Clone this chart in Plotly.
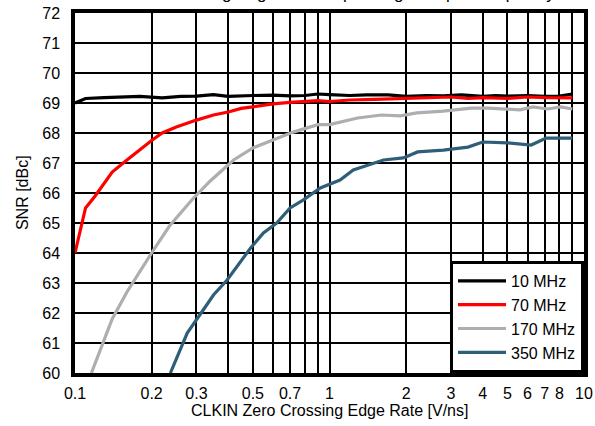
import plotly.graph_objects as go

# CLKIN edge rate [V/ns] and SNR [dBc]
x_10 = [0.1, 0.11, 0.13, 0.15, 0.18, 0.22, 0.26, 0.3, 0.35, 0.4, 0.45, 0.5, 0.6, 0.7, 0.8, 0.9,
        1.0, 1.2, 1.4, 1.7, 2.0, 2.4, 2.8, 3.3, 4.0, 4.5, 5.0, 6.0, 7.0, 8.0, 9.0]
snr_10 = [69.0, 69.15, 69.18, 69.2, 69.22, 69.17, 69.22, 69.23, 69.28, 69.22, 69.24, 69.25, 69.26, 69.24, 69.25, 69.3,
          69.28, 69.25, 69.27, 69.27, 69.22, 69.25, 69.24, 69.27, 69.22, 69.25, 69.23, 69.25, 69.22, 69.23, 69.3]

x_70 = [0.1, 0.11, 0.12, 0.14, 0.16, 0.18, 0.2, 0.22, 0.25, 0.3, 0.35, 0.4, 0.45, 0.5, 0.55, 0.6,
        0.7, 0.8, 0.9, 1.0, 1.2, 1.5, 2.0, 2.5, 3.0, 3.5, 4.0, 5.0, 6.0, 7.0, 8.0, 9.0]
snr_70 = [64.0, 65.5, 65.9, 66.7, 67.1, 67.45, 67.75, 68.0, 68.2, 68.43, 68.6, 68.7, 68.82, 68.87, 68.92, 68.97,
          69.02, 69.05, 69.08, 69.05, 69.1, 69.12, 69.15, 69.17, 69.2, 69.15, 69.18, 69.15, 69.2, 69.18, 69.17, 69.17]

x_170 = [0.116, 0.125, 0.14, 0.16, 0.18, 0.2, 0.235, 0.29, 0.34, 0.42, 0.5, 0.6, 0.72, 0.9, 1.0, 1.29,
         1.6, 1.9, 2.2, 2.8, 3.6, 4.2, 5.6, 6.3, 7.2, 8.1, 9.0]
snr_170 = [60.0, 60.7, 61.8, 62.7, 63.4, 64.0, 64.9, 65.8, 66.4, 67.1, 67.5, 67.77, 68.03, 68.28, 68.28, 68.5,
           68.6, 68.57, 68.67, 68.73, 68.83, 68.83, 68.77, 68.87, 68.8, 68.87, 68.8]

x_350 = [0.237, 0.276, 0.319, 0.35, 0.396, 0.446, 0.49, 0.55, 0.62, 0.7, 0.79, 0.92, 1.1, 1.24, 1.63, 1.95,
         2.22, 2.8, 3.5, 4.0, 5.0, 6.2, 7.1, 9.0]
snr_350 = [60.0, 61.33, 62.1, 62.6, 63.1, 63.7, 64.17, 64.67, 65.0, 65.5, 65.77, 66.17, 66.43, 66.77, 67.1, 67.17,
           67.37, 67.43, 67.53, 67.7, 67.67, 67.6, 67.83, 67.83]

series = [
    ("10 MHz", x_10, snr_10, "#000000"),
    ("70 MHz", x_70, snr_70, "#FF0000"),
    ("170 MHz", x_170, snr_170, "#AEAEAE"),
    ("350 MHz", x_350, snr_350, "#2F5F78"),
]

x_ticks = [0.1, 0.2, 0.3, 0.4, 0.5, 0.6, 0.7, 0.8, 0.9, 1, 2, 3, 4, 5, 6, 7, 8, 9, 10]
x_tick_labels = ["0.1", "0.2", "0.3", "", "0.5", "", "0.7", "", "", "1",
                 "2", "3", "4", "5", "6", "7", "8", "", "10"]
y_ticks = list(range(60, 73))

fig = go.Figure()
for name, xs, ys, color in series:
    fig.add_trace(go.Scatter(x=xs, y=ys, mode="lines", name=name,
                             line=dict(color=color, width=3.2)))

font = dict(family="Liberation Sans, Arial, sans-serif", size=16, color="black")

# title sits mostly above the page edge, as in the reference
fig.add_annotation(text="SNR vs Clocking Edge Rate Depending on Input Frequency",
                   xref="paper", yref="paper", x=0.5, y=1.022,
                   xanchor="center", yanchor="bottom", showarrow=False,
                   font=dict(size=17))
# axis titles
fig.add_annotation(text="CLKIN Zero Crossing Edge Rate [V/ns]",
                   xref="paper", yref="paper", x=0.5, y=-0.105,
                   xanchor="center", yanchor="middle", showarrow=False)
fig.add_annotation(text="SNR [dBc]", textangle=-90,
                   xref="paper", yref="paper", x=-0.104, y=0.5,
                   xanchor="center", yanchor="middle", showarrow=False)

fig.update_layout(
    width=595, height=426,
    margin=dict(l=75, r=11, t=13, b=53, autoexpand=False),
    paper_bgcolor="white", plot_bgcolor="white",
    font=font,
    xaxis=dict(type="log", range=[-1, 1], tickvals=x_ticks, ticktext=x_tick_labels,
               showgrid=True, gridcolor="black", gridwidth=1.8,
               showline=True, linecolor="black", linewidth=3.5, mirror=True,
               ticks="", ticklabelstandoff=3, zeroline=False, automargin=False),
    yaxis=dict(range=[60, 72], tickvals=y_ticks,
               showgrid=True, gridcolor="black", gridwidth=1.8,
               showline=True, linecolor="black", linewidth=3.5, mirror=True,
               ticks="", ticklabelstandoff=8, zeroline=False, automargin=False),
    legend=dict(x=1, y=0, xanchor="right", yanchor="bottom",
                bgcolor="white", bordercolor="black", borderwidth=3,
                font=dict(size=16), tracegroupgap=0, itemwidth=48),
)

fig.write_html("out.html", config={"displayModeBar": False},
               post_script="document.body.style.margin='0';")
